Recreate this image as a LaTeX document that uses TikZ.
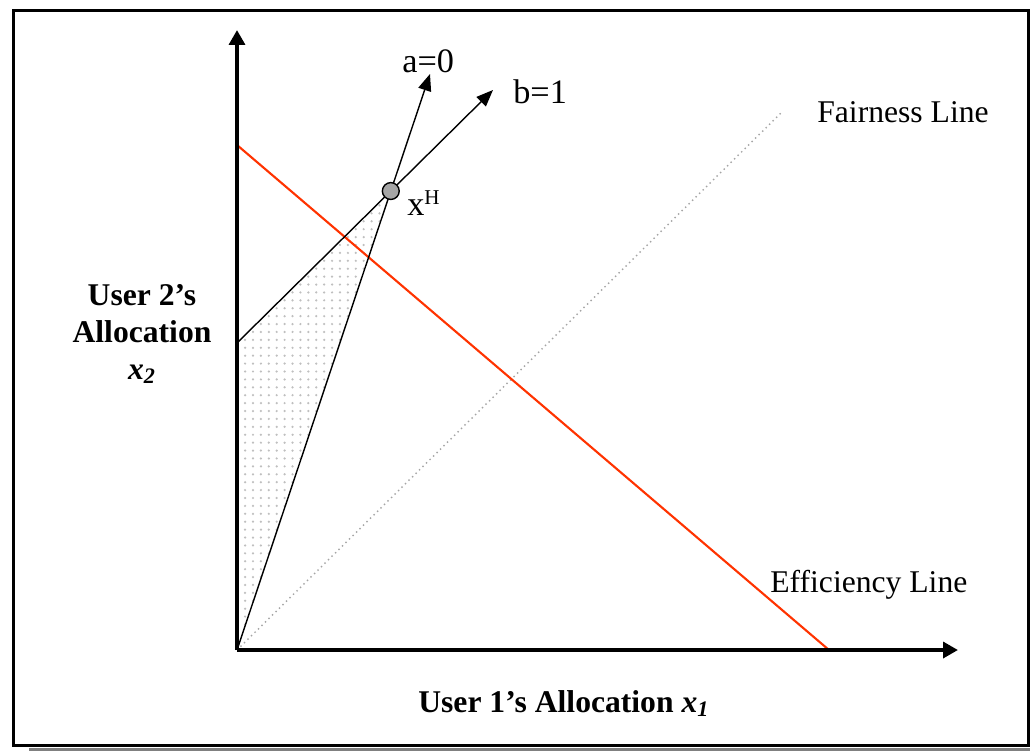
\documentclass[tikz,border=0pt]{standalone}
\usepackage{fontspec}
\setmainfont{Liberation Serif}
\usetikzlibrary{positioning,arrows.meta,patterns.meta}
\definecolor{effRed}{RGB}{255,51,0}
\definecolor{fairGray}{RGB}{165,165,165}
\definecolor{shadeGray}{RGB}{128,128,128}
\tikzset{
  axis/.style={line width=2.3pt, -{Triangle[length=8.5pt,width=9pt]}},
  ray/.style={line width=0.8pt, -{Triangle[length=9.5pt,width=7.5pt]}},
  effline/.style={draw=effRed, line width=1.2pt},
  fairline/.style={draw=fairGray, line width=0.8pt, dotted},
  region/.style={pattern={Dots[distance=4.5pt,radius=0.7pt]}, pattern color=black!25},
  hpoint/.style={circle, draw=black, fill=black!35, line width=0.8pt,
                 minimum size=9.6pt, inner sep=0pt},
  lbl/.style={font=\fontsize{18}{22}\selectfont, inner sep=0pt},
  rlbl/.style={font=\fontsize{19.5}{23}\selectfont, inner sep=0pt},
  axlbl/.style={font=\fontsize{18}{21}\selectfont\bfseries, align=center, inner sep=0pt},
}

\begin{document}
\begin{tikzpicture}[x=0.02cm, y=-0.02cm]
  \useasboundingbox (0,0) rectangle (1030,751);

  % ---- frame with shadow ----
  \fill[white] (0,0) rectangle (1030,751);
  \fill[shadeGray] (29,747.5) rectangle (1030,751);
  \draw[line width=1.7pt] (13.5,10.5) rectangle (1028,745.5);

  % ---- key points ----
  \coordinate (O) at (237,650);
  \coordinate (ytip) at (237,30);
  \coordinate (xtip) at (958,650);
  \coordinate (atip) at (430,74);
  \coordinate (b0) at (237,343);
  \coordinate (btip) at (493,90);
  \coordinate (e0) at (237,145);
  \coordinate (e1) at (829,650);
  \coordinate (fend) at (782,112);
  \coordinate (H) at (intersection of O--atip and b0--btip);

  % ---- feasible region ----
  \fill[region] (b0) -- (H) -- (O) -- cycle;

  % ---- fairness and efficiency lines ----
  \draw[fairline] (O) -- (fend);
  \draw[effline] (e0) -- (e1);

  % ---- rays a=0, b=1 ----
  \draw[ray] (O) -- (atip);
  \draw[ray] (b0) -- (btip);
  \node[hpoint] (xh) at (H) {};

  % ---- axes ----
  \draw[axis] (O) -- (ytip);
  \draw[axis] (O) -- (xtip);

  % ---- labels ----
  \node[rlbl, anchor=base west] (alab) at (402,72) {a=0};
  \node[rlbl, anchor=base west] (blab) at (513,103) {b=1};
  \node[rlbl, anchor=base west] (xhlab) at (407,215)
        {x{\fontsize{12}{12}\selectfont\raisebox{5.7pt}{H}}};
  \node[lbl, anchor=base west] (fairlbl) at (817,122) {Fairness Line};
  \node[lbl, anchor=base west] (efflbl) at (770,592) {Efficiency Line};
  \node[axlbl] (ylab) at (142,334)
        {User 2’s\\Allocation\\\textit{x}\textsubscript{\textit{2}}};
  \node[axlbl, anchor=base west] (xlab) at (418,712)
        {User 1’s Allocation \textit{x}\textsubscript{\textit{1}}};
\end{tikzpicture}
\end{document}
